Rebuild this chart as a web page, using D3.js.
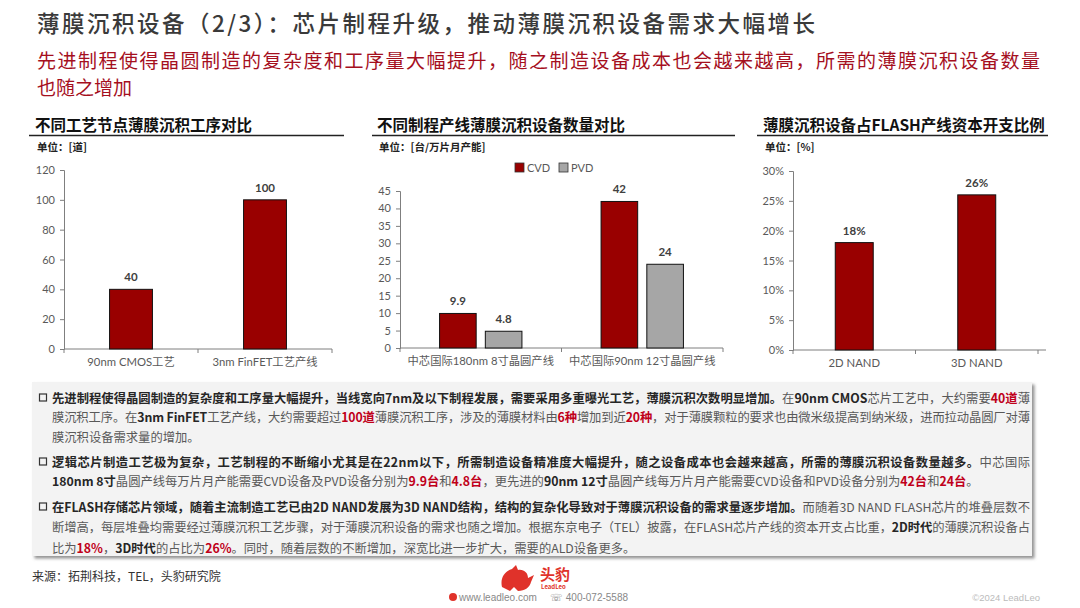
<!DOCTYPE html>
<html><head><meta charset="utf-8">
<script src="https://cdn.jsdelivr.net/npm/d3@7"></script>
<style>
html,body{margin:0;padding:0;background:#fff;}
svg{display:block;font-family:"Noto Sans CJK SC","Noto Sans",sans-serif;}
</style></head>
<body>
<svg id="s" width="1080" height="608"></svg>
<script>
// ---------- data ----------
const pageTitle = "薄膜沉积设备（2/3）：芯片制程升级，推动薄膜沉积设备需求大幅增长";
const subtitleLines = ["先进制程使得晶圆制造的复杂度和工序量大幅提升，随之制造设备成本也会越来越高，所需的薄膜沉积设备数量","也随之增加"];

const c1Title = "不同工艺节点薄膜沉积工序对比";
const c1Unit = "单位：[道]";
const c1Categories = ["90nm CMOS工艺","3nm FinFET工艺产线"];
const c1Values = [40,100];
const c1Ticks = [0,20,40,60,80,100,120];

const c2Title = "不同制程产线薄膜沉积设备数量对比";
const c2Unit = "单位：[台/万片月产能]";
const c2Categories = ["中芯国际180nm 8寸晶圆产线","中芯国际90nm 12寸晶圆产线"];
const c2Series = ["CVD","PVD"];
const c2CVD = [9.9,42];
const c2PVD = [4.8,24];
const c2Ticks = [0,5,10,15,20,25,30,35,40,45];

const c3Title = "薄膜沉积设备占FLASH产线资本开支比例";
const c3Unit = "单位：[%]";
const c3Categories = ["2D NAND","3D NAND"];
const c3Values = [0.18,0.26];
const c3Ticks = [0,0.05,0.10,0.15,0.20,0.25,0.30];

// text box lines: [text, style] style: n normal, b bold, r bold red
const para1 = [
 [["先进制程使得晶圆制造的复杂度和工序量大幅提升，当线宽向7nm及以下制程发展，需要采用多重曝光工艺，薄膜沉积次数明显增加。","b"],["在","n"],["90nm CMOS","b"],["芯片工艺中，大约需要","n"],["40道","r"],["薄","n"]],
 [["膜沉积工序。在","n"],["3nm FinFET","b"],["工艺产线，大约需要超过","n"],["100道","r"],["薄膜沉积工序，涉及的薄膜材料由","n"],["6种","r"],["增加到近","n"],["20种","r"],["，对于薄膜颗粒的要求也由微米级提高到纳米级，进而拉动晶圆厂对薄","n"]],
 [["膜沉积设备需求量的增加。","n"]]
];
const para2 = [
 [["逻辑芯片制造工艺极为复杂，工艺制程的不断缩小尤其是在22nm以下，所需制造设备精准度大幅提升，随之设备成本也会越来越高，所需的薄膜沉积设备数量越多。","b"],["中芯国际","n"]],
 [["180nm 8寸","b"],["晶圆产线每万片月产能需要CVD设备及PVD设备分别为","n"],["9.9台","r"],["和","n"],["4.8台","r"],["，更先进的","n"],["90nm 12寸","b"],["晶圆产线每万片月产能需要CVD设备和PVD设备分别为","n"],["42台","r"],["和","n"],["24台","r"],["。","n"]]
];
const para3 = [
 [["在FLASH存储芯片领域，随着主流制造工艺已由2D NAND发展为3D NAND结构，结构的复杂化导致对于薄膜沉积设备的需求量逐步增加。","b"],["而随着3D NAND FLASH芯片的堆叠层数不","n"]],
 [["断增高，每层堆叠均需要经过薄膜沉积工艺步骤，对于薄膜沉积设备的需求也随之增加。根据东京电子（TEL）披露，在FLASH芯片产线的资本开支占比重，","n"],["2D时代","b"],["的薄膜沉积设备占","n"]],
 [["比为","n"],["18%","r"],["，","n"],["3D时代","b"],["的占比为","n"],["26%","r"],["。同时，随着层数的不断增加，深宽比进一步扩大，需要的ALD设备更多。","n"]]
];
const sourceText = "来源：拓荆科技，TEL，头豹研究院";

// ---------- drawing ----------
const svg = d3.select("#s");
const RED = "#990000", GRAY = "#a6a6a6";
const defs = svg.append("defs");
const f = defs.append("filter").attr("id","sh").attr("x","-5%").attr("y","-5%").attr("width","110%").attr("height","115%");
f.append("feDropShadow").attr("dx",2.5).attr("dy",2.5).attr("stdDeviation",1.5).attr("flood-color","#777").attr("flood-opacity",0.8);

// header
svg.append("text").attr("x",37).attr("y",32).attr("font-size",22.5).attr("fill","#3a3a3a")
  .attr("font-weight",500).attr("textLength",778).attr("lengthAdjust","spacing").text(pageTitle);
subtitleLines.forEach((t,i)=>{
  const el = svg.append("text").attr("x",37).attr("y",67.5+i*27.6).attr("font-size",19).attr("fill","#a50f1e").text(t);
  if(i===0) el.attr("textLength",1003).attr("lengthAdjust","spacing");
});

function chartHeader(x, ulx0, ulx1, title, unit){
  svg.append("text").attr("x",x).attr("y",131).attr("font-size",15.5).attr("font-weight",700).attr("fill","#111").text(title);
  svg.append("line").attr("x1",ulx0).attr("x2",ulx1).attr("y1",135.5).attr("y2",135.5).attr("stroke","#222").attr("stroke-width",1.6);
  svg.append("text").attr("x",x+2).attr("y",151).attr("font-size",10.5).attr("font-weight",700).attr("fill","#222").text(unit);
}
const tickFont = "Lato, 'Noto Sans CJK SC', sans-serif";
function axes(xScale, yScale, ticks, fmt, x0, x1, y0){
  const g = svg.append("g");
  const ya = g.append("g").attr("transform",`translate(${x0},0)`)
    .call(d3.axisLeft(yScale).tickValues(ticks).tickFormat(fmt).tickSize(4).tickPadding(5));
  ya.select(".domain").attr("stroke","#7f7f7f");
  ya.selectAll(".tick line").attr("stroke","#7f7f7f");
  ya.selectAll("text").attr("font-size",11).attr("fill","#595959").attr("font-family",tickFont);
  const xa = g.append("g").attr("transform",`translate(0,${y0})`)
    .call(d3.axisBottom(xScale).tickSize(0).tickPadding(9));
  xa.select(".domain").remove();
  xa.selectAll("text").attr("font-size",11.3).attr("fill","#595959").attr("font-family",tickFont);
  g.append("line").attr("x1",x0).attr("x2",x1).attr("y1",y0).attr("y2",y0).attr("stroke","#7f7f7f");
  const dom = xScale.domain();
  const bounds = [x0].concat(dom.map(d=>xScale(d)+xScale.bandwidth()/2+xScale.step()/2));
  g.selectAll(".bt").data(bounds).join("line").attr("x1",d=>d).attr("x2",d=>d).attr("y1",y0).attr("y2",y0+4).attr("stroke","#7f7f7f");
}
function valueLabel(x,y,t){
  svg.append("text").attr("x",x).attr("y",y-8).attr("text-anchor","middle").attr("font-size",11.5)
    .attr("font-weight",700).attr("fill","#404040").attr("font-family",tickFont).text(t);
}

// chart 1
chartHeader(35,29,344,c1Title,c1Unit);
{
  const x = d3.scaleBand().domain(c1Categories).range([64,332]).paddingInner(0.68).paddingOuter(0.34);
  const y = d3.scaleLinear().domain([0,120]).range([349,170]);
  axes(x,y,c1Ticks,d3.format("d"),64,332,349);
  c1Categories.forEach((c,i)=>{
    svg.append("rect").attr("x",x(c)).attr("y",y(c1Values[i])).attr("width",x.bandwidth()).attr("height",y(0)-y(c1Values[i]))
      .attr("fill",RED).attr("stroke","#111").attr("stroke-width",1);
    valueLabel(x(c)+x.bandwidth()/2,y(c1Values[i]),c1Values[i]);
  });
}

// chart 2
chartHeader(377,372,735,c2Title,c2Unit);
{
  const x = d3.scaleBand().domain(c2Categories).range([400,723]).paddingInner(0.49).paddingOuter(0.245);
  const xs = d3.scaleBand().domain(c2Series).range([0,x.bandwidth()]).paddingInner(0.2);
  const y = d3.scaleLinear().domain([0,45]).range([348,191]);
  axes(x,y,c2Ticks,d3.format("d"),400,723,348);
  const vals = {CVD:c2CVD, PVD:c2PVD};
  const col = {CVD:RED, PVD:GRAY};
  c2Categories.forEach((c,i)=>{
    c2Series.forEach(s=>{
      const v = vals[s][i];
      svg.append("rect").attr("x",x(c)+xs(s)).attr("y",y(v)).attr("width",xs.bandwidth()).attr("height",y(0)-y(v))
        .attr("fill",col[s]).attr("stroke","#111").attr("stroke-width",1);
      valueLabel(x(c)+xs(s)+xs.bandwidth()/2,y(v),v);
    });
  });
  const lg = svg.append("g").attr("transform","translate(515,163)");
  c2Series.forEach((s,i)=>{
    const gx = i*44;
    lg.append("rect").attr("x",gx).attr("y",0).attr("width",9).attr("height",9).attr("fill",col[s]).attr("stroke","#333").attr("stroke-width",0.8);
    lg.append("text").attr("x",gx+12).attr("y",8.5).attr("font-size",11).attr("fill","#595959").attr("font-family",tickFont).text(s);
  });
}

// chart 3
chartHeader(763,757,1048,c3Title,c3Unit);
{
  const x = d3.scaleBand().domain(c3Categories).range([793,1038]).paddingInner(0.69).paddingOuter(0.345);
  const y = d3.scaleLinear().domain([0,0.30]).range([350,171]);
  axes(x,y,c3Ticks,d3.format(".0%"),793,1046,350);
  c3Categories.forEach((c,i)=>{
    svg.append("rect").attr("x",x(c)).attr("y",y(c3Values[i])).attr("width",x.bandwidth()).attr("height",y(0)-y(c3Values[i]))
      .attr("fill",RED).attr("stroke","#111").attr("stroke-width",1);
    valueLabel(x(c)+x.bandwidth()/2,y(c3Values[i]),d3.format(".0%")(c3Values[i]));
  });
}

// text box
svg.append("rect").attr("x",32).attr("y",382).attr("width",1000).attr("height",174).attr("fill","#f3f3f3").attr("filter","url(#sh)");
const paras = [para1,para2,para3];
const lineCenters = [[398,417,437],[462,481],[507,527,548]];
const fullLine = [[true,true,false],[true,false],[true,true,false]];
paras.forEach((p,pi)=>{
  svg.append("rect").attr("x",39.5).attr("y",lineCenters[pi][0]-4).attr("width",7).attr("height",7)
    .attr("fill","none").attr("stroke","#333").attr("stroke-width",1.2);
  p.forEach((segs,li)=>{
    const t = svg.append("text").attr("x",52).attr("y",lineCenters[pi][li]+4.5).attr("font-size",12.3);
    if(fullLine[pi][li]) t.attr("textLength",978).attr("lengthAdjust","spacing");
    segs.forEach(([s,st])=>{
      t.append("tspan").text(s)
        .attr("font-weight",st==="n"?400:700)
        .attr("fill",st==="r"?"#c0001a":(st==="b"?"#262626":"#595959"));
    });
  });
});

// footer
svg.append("text").attr("x",32).attr("y",581).attr("font-size",12).attr("fill","#333").text(sourceText);
const logo = svg.append("g").attr("transform","translate(500,565)");
logo.append("path").attr("d","M2,22 C0,14 4,6 12,4 L16,0 L18,5 C24,4 28,8 28,13 L34,10 L31,17 C30,22 25,26 18,26 L14,22 L10,26 Z")
  .attr("fill","#e0322a");
logo.append("text").attr("x",40).attr("y",15).attr("font-size",15).attr("font-weight",700).attr("fill","#e0322a").text("头豹");
logo.append("text").attr("x",41).attr("y",24).attr("font-size",6).attr("font-weight",700).attr("fill","#e0322a").text("LeadLeo");
svg.append("circle").attr("cx",453).attr("cy",597).attr("r",4).attr("fill","#e0322a");
svg.append("text").attr("x",459).attr("y",601).attr("font-size",10).attr("fill","#888").attr("font-family","'Liberation Sans',sans-serif").text("www.leadleo.com");
svg.append("text").attr("x",550).attr("y",601).attr("font-size",10).attr("fill","#888").attr("font-family","'Liberation Sans',sans-serif").text("☏ 400-072-5588");
svg.append("text").attr("x",1040).attr("y",601).attr("text-anchor","end").attr("font-size",9.5).attr("fill","#bbb").attr("font-family","'Liberation Sans',sans-serif").text("©2024 LeadLeo");
</script>
</body></html>
